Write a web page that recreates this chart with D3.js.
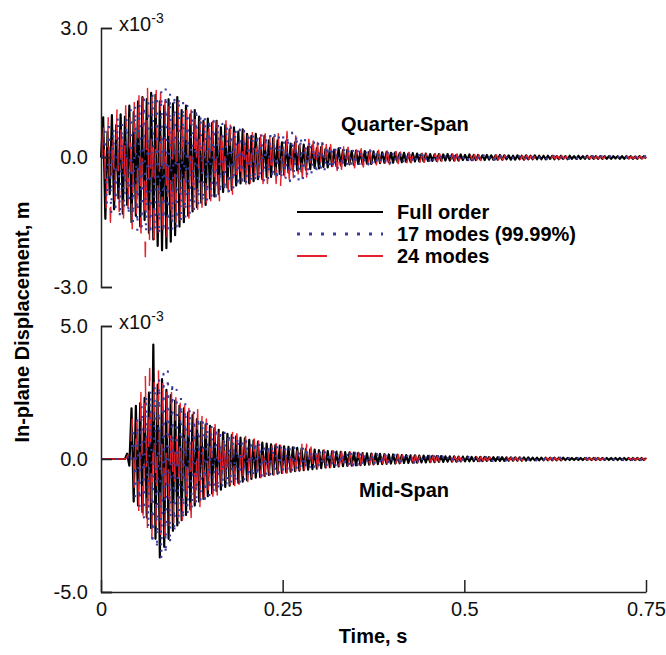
<!DOCTYPE html>
<html>
<head>
<meta charset="utf-8">
<script src="https://cdn.jsdelivr.net/npm/d3@7"></script>
<style>
  body { margin: 0; background: #fff; }
  text { font-family: "Liberation Sans", Arial, sans-serif; }
</style>
</head>
<body>
<div id="chart"></div>
<script>
// sample spacing (s); values below are in units of 1e-5 m (i.e. 0.01 x 10^-3)
const tStep = 0.003;
const timeTicks = [0, 0.25, 0.5, 0.75];
const topTicks = [-3, 0, 3];
const botTicks = [-5, 0, 5];
const seriesNames = ['Full order', '17 modes (99.99%)', '24 modes'];
const seriesStart = [0, 0.002, 0.001]; // time of first sample for each series

// Quarter-span, full order
const quarterFull = [0,
  93, -142, 60, -85, 98, -120, 75, -95, 100, -130,
  95, -110, 120, -150, 105, -135, 130, -160, 140, -145,
  135, -175, 150, -190, 145, -205, 130, -215, 120, -210,
  135, -195, 125, -180, 140, -160, 110, -150, 120, -135,
  100, -125, 110, -115, 95, -105, 85, -110, 90, -95,
  80, -90, 85, -85, 70, -80, 75, -70, 65, -75,
  70, -65, 60, -60, 65, -55, 55, -60, 50, -55,
  55, -50, 45, -50, 50, -45, 40, -45, 45, -40,
  40, -38, 35, -40, 38, -35, 32, -30, 35, -30,
  28, -32, 30, -28, 25, -27, 28, -24, 22, -25,
  24, -22, 20, -23, 22, -20, 18, -20, 21, -18,
  17, -19, 18, -16, 15, -17, 16, -15, 14, -16,
  15, -14, 13, -15, 14, -12, 13, -13, 12, -12,
  13, -11, 11, -12, 12, -10, 10, -11, 11, -10,
  9, -10, 10, -9, 9, -9, 8, -9, 9, -8,
  8, -8, 7, -8, 8, -7, 7, -7, 8, -7,
  7, -7, 6, -7, 7, -6, 6, -6, 7, -6,
  6, -6, 6, -5, 5, -6, 6, -5, 5, -5,
  5, -5, 6, -5, 5, -4, 5, -5, 4, -5,
  5, -4, 4, -5, 5, -4, 4, -4, 5, -4,
  4, -4, 4, -4, 4, -3, 4, -4, 3, -4,
  4, -3, 3, -4, 4, -3, 3, -3, 4, -3,
  3, -3, 4, -3, 3, -3, 3, -3, 3, -3,
  3, -3, 3, -3, 3, -2, 3, -3, 3, -3,
  3, -2, 3, -3, 2, -3, 3, -2, 3, -2];

// Quarter-span, 17 modes
const quarter17 = [0,
  60, -110, 85, -130, 70, -115, 95, -140, 80, -120,
  90, -135, 110, -150, 120, -170, 125, -160, 135, -175,
  140, -180, 150, -170, 145, -180, 155, -175, 160, -165,
  150, -170, 145, -160, 140, -150, 130, -140, 120, -135,
  110, -125, 115, -110, 100, -105, 95, -100, 90, -95,
  85, -90, 80, -85, 78, -80, 75, -78, 70, -72,
  68, -70, 65, -66, 62, -64, 60, -60, 58, -58,
  56, -55, 54, -56, 52, -52, 55, -50, 52, -54,
  50, -52, 55, -50, 52, -55, 58, -52, 55, -53,
  50, -48, 45, -47, 42, -40, 38, -40, 35, -36,
  33, -34, 30, -30, 28, -28, 26, -27, 25, -24,
  23, -22, 21, -22, 20, -19, 19, -18, 18, -18,
  17, -16, 16, -16, 15, -15, 14, -14, 14, -13,
  13, -13, 12, -12, 12, -11, 11, -11, 10, -11,
  10, -10, 10, -9, 9, -9, 9, -9, 8, -8,
  8, -8, 8, -8, 7, -7, 7, -7, 7, -7,
  7, -6, 6, -7, 6, -6, 6, -6, 6, -6,
  6, -5, 5, -6, 5, -5, 5, -5, 5, -5,
  5, -5, 5, -4, 5, -5, 4, -4, 5, -4,
  4, -4, 4, -4, 4, -4, 4, -4, 4, -4,
  4, -3, 4, -4, 3, -4, 4, -3, 3, -4,
  3, -3, 4, -3, 3, -3, 3, -3, 3, -3,
  3, -3, 3, -3, 3, -3, 3, -3, 3, -3,
  3, -2, 3, -3, 3, -2, 3, -3, 2, -3,
  3, -2, 2, -3, 3, -2, 2, -2, 3, -2];

// Quarter-span, 24 modes
const quarter24 = [0,
  80, -120, 95, -150, 70, -100, 110, -125, 90, -140,
  120, -130, 100, -165, 140, -150, 165, -175, 150, -230,
  160, -215, 140, -225, 155, -190, 150, -200, 130, -185,
  140, -170, 120, -165, 130, -150, 115, -145, 125, -140,
  110, -130, 115, -120, 100, -115, 95, -105, 100, -100,
  90, -95, 85, -100, 80, -85, 85, -80, 75, -85,
  80, -75, 70, -80, 75, -70, 65, -75, 70, -65,
  60, -65, 65, -60, 55, -60, 60, -55, 50, -60,
  55, -70, 50, -55, 60, -50, 45, -55, 50, -45,
  45, -48, 40, -45, 42, -38, 38, -40, 35, -38,
  34, -32, 30, -33, 30, -28, 28, -30, 26, -27,
  25, -26, 24, -23, 22, -24, 22, -21, 20, -22,
  19, -20, 18, -19, 18, -17, 17, -17, 16, -16,
  15, -16, 15, -14, 14, -14, 13, -14, 13, -12,
  12, -12, 11, -12, 11, -11, 10, -11, 10, -10,
  10, -9, 9, -10, 9, -9, 9, -8, 8, -9,
  8, -8, 8, -7, 7, -8, 7, -7, 7, -7,
  7, -6, 6, -7, 6, -6, 6, -6, 6, -5,
  6, -5, 5, -6, 5, -5, 5, -5, 5, -5,
  5, -4, 4, -5, 5, -4, 4, -4, 5, -4,
  4, -4, 5, -4, 4, -4, 4, -3, 4, -4,
  4, -3, 3, -4, 4, -3, 3, -3, 4, -3,
  3, -4, 3, -3, 4, -3, 3, -3, 3, -3,
  3, -3, 3, -3, 3, -3, 3, -3, 3, -2,
  3, -3, 2, -3, 3, -2, 3, -3, 2, -2];

// Mid-span, full order
const midFull = [0, 0, 0, 0, 0, 0, 0, 0, 0, 0, 0, 0,
  20, -25, 190, -160, 200, -175, 210, -200, 230,
  -220, 250, -260, 430, -300, 280, -370, 300, -330, 260,
  -300, 240, -270, 220, -250, 200, -230, 190, -210, 175,
  -190, 165, -175, 150, -160, 140, -150, 130, -140, 125,
  -130, 115, -120, 110, -115, 100, -105, 95, -100, 90,
  -95, 85, -90, 80, -85, 78, -80, 72, -75, 70,
  -70, 65, -68, 62, -64, 58, -60, 55, -58, 52,
  -55, 50, -52, 48, -50, 46, -48, 44, -46, 42,
  -44, 40, -42, 38, -40, 36, -38, 35, -36, 33,
  -34, 32, -32, 30, -31, 29, -30, 28, -28, 27,
  -27, 26, -26, 25, -25, 24, -24, 23, -23, 22,
  -22, 21, -21, 20, -20, 20, -19, 19, -19, 18,
  -18, 17, -17, 17, -17, 16, -16, 15, -15, 15,
  -15, 14, -14, 14, -14, 13, -13, 13, -13, 12,
  -12, 12, -12, 11, -11, 11, -11, 10, -10, 10,
  -10, 10, -10, 9, -9, 9, -9, 9, -9, 8,
  -8, 8, -8, 8, -8, 8, -7, 7, -7, 7,
  -7, 7, -7, 7, -7, 6, -6, 6, -6, 6,
  -6, 6, -6, 6, -6, 6, -5, 5, -5, 5,
  -5, 5, -5, 5, -5, 5, -5, 5, -5, 5,
  -5, 5, -4, 4, -4, 4, -4, 4, -4, 4,
  -4, 4, -4, 4, -4, 4, -4, 4, -4, 4,
  -4, 4, -4, 4, -4, 4, -4, 4, -4, 4,
  -4, 4, -4, 4, -4, 4, -4, 4, -4, 4];

// Mid-span, 17 modes
const mid17 = [0, 0, 0, 0, 0, 0, 0, 0, 0, 0, 0, 0,
  10, -15, 120, -140, 150, -180, 200, -220, 240,
  -260, 260, -300, 280, -340, 300, -380, 320, -360, 330,
  -320, 290, -280, 260, -250, 230, -230, 210, -210, 190,
  -190, 175, -175, 160, -160, 150, -150, 140, -140, 130,
  -130, 120, -120, 112, -112, 105, -105, 98, -98, 92,
  -92, 86, -86, 80, -80, 76, -76, 72, -72, 68,
  -68, 64, -64, 60, -60, 57, -57, 54, -54, 51,
  -51, 49, -49, 47, -47, 45, -45, 43, -43, 41,
  -41, 39, -39, 37, -37, 35, -35, 34, -34, 32,
  -32, 31, -31, 29, -29, 28, -28, 27, -27, 26,
  -26, 25, -25, 24, -24, 23, -23, 22, -22, 21,
  -21, 20, -20, 20, -19, 19, -19, 18, -18, 18,
  -17, 17, -17, 16, -16, 16, -15, 15, -15, 15,
  -14, 14, -14, 13, -13, 13, -13, 12, -12, 12,
  -12, 11, -11, 11, -11, 10, -10, 10, -10, 10,
  -9, 9, -9, 9, -9, 9, -8, 8, -8, 8,
  -8, 8, -8, 7, -7, 7, -7, 7, -7, 7,
  -7, 6, -6, 6, -6, 6, -6, 6, -6, 6,
  -6, 5, -5, 5, -5, 5, -5, 5, -5, 5,
  -5, 5, -5, 5, -5, 5, -5, 5, -5, 5,
  -5, 4, -4, 4, -4, 4, -4, 4, -4, 4,
  -4, 4, -4, 4, -4, 4, -4, 4, -4, 4,
  -4, 4, -4, 4, -4, 4, -4, 4, -4, 4,
  -4, 4, -4, 4, -4, 4, -4, 4, -4, 4];

// Mid-span, 24 modes
const mid24 = [0, 0, 0, 0, 0, 0, 0, 0, 0, 0, 0, 0,
  15, -20, 150, -130, 170, -200, 250, -230, 320,
  -280, 340, -300, 330, -250, 345, -320, 300, -290, 280,
  -260, 250, -240, 230, -220, 210, -230, 200, -200, 190,
  -220, 180, -200, 185, -190, 160, -170, 150, -150, 140,
  -140, 130, -135, 120, -125, 110, -115, 105, -110, 100,
  -100, 95, -95, 90, -90, 85, -85, 80, -80, 75,
  -75, 72, -70, 68, -66, 64, -62, 60, -60, 58,
  -56, 56, -54, 52, -52, 50, -48, 55, -45, 60,
  -42, 70, -40, 55, -38, 45, -36, 40, -35, 38,
  -33, 34, -32, 32, -31, 30, -30, 29, -28, 28,
  -27, 26, -26, 25, -25, 24, -24, 23, -23, 22,
  -22, 21, -21, 20, -20, 19, -19, 19, -18, 18,
  -18, 17, -17, 17, -16, 16, -16, 15, -15, 15,
  -15, 14, -14, 14, -13, 13, -13, 13, -12, 12,
  -12, 12, -11, 11, -11, 11, -11, 10, -10, 10,
  -10, 10, -9, 9, -9, 9, -9, 9, -8, 8,
  -8, 8, -8, 8, -8, 7, -7, 7, -7, 7,
  -7, 7, -7, 6, -6, 6, -6, 6, -6, 6,
  -6, 6, -6, 6, -5, 5, -5, 5, -5, 5,
  -5, 5, -5, 5, -5, 5, -5, 5, -5, 5,
  -5, 4, -4, 4, -4, 4, -4, 4, -4, 4,
  -4, 4, -4, 4, -4, 4, -4, 4, -4, 4,
  -4, 4, -4, 4, -4, 4, -4, 4, -4, 4,
  -4, 4, -4, 4, -4, 4, -4, 4, -4, 4];

const svg = d3.select('#chart')
  .append('svg')
  .attr('width', 666)
  .attr('height', 655);

const x = d3.scaleLinear().domain([0, 0.75]).range([101, 646]);
const yTop = d3.scaleLinear().domain([-3, 3]).range([287, 28]);
const yBot = d3.scaleLinear().domain([-5, 5]).range([592, 326]);

// line styles: full order, 17 modes, 24 modes
const styles = [
  { color: '#000000', width: 2.2, dash: null },
  { color: '#3b3b9f', width: 2.1, dash: '2.1,10.5' },
  { color: '#e4222c', width: 1.5, dash: '30,31' }
];
const drawOrder = [0, 2, 1];

function toPoints(vals, t0) {
  return vals.map((v, i) => [t0 + i * tStep, v / 100]);
}

const panels = [
  { y: yTop, ticks: topTicks, data: [quarterFull, quarter17, quarter24] },
  { y: yBot, ticks: botTicks, data: [midFull, mid17, mid24] }
];

panels.forEach(p => {
  const line = d3.line().x(d => x(d[0])).y(d => p.y(d[1]));
  drawOrder.forEach(k => {
    svg.append('path')
      .datum(toPoints(p.data[k], seriesStart[k]))
      .attr('d', line)
      .attr('fill', 'none')
      .attr('stroke', styles[k].color)
      .attr('stroke-width', styles[k].width)
      .attr('stroke-linejoin', 'round')
      .attr('stroke-dasharray', styles[k].dash);
  });

  // left axis, bracket style with inward ticks
  const ax = svg.append('g')
    .attr('transform', `translate(${x(0)},0)`)
    .call(d3.axisLeft(p.y)
      .tickValues(p.ticks)
      .tickSizeInner(-11)
      .tickSizeOuter(-11)
      .tickPadding(13)
      .tickFormat(d => d.toFixed(1)));
  ax.select('.domain').attr('stroke', '#222').attr('stroke-width', 1.5);
  ax.selectAll('.tick line').attr('stroke', '#222').attr('stroke-width', 1.5);
  ax.selectAll('.tick text')
    .style('font-size', '20px')
    .attr('fill', '#111')
    .style('font-family', '"Liberation Sans", Arial, sans-serif');

  // x10^-3 multiplier
  const mult = svg.append('text')
    .attr('x', x(0) + 18)
    .attr('y', p.y.range()[1] + 3)
    .style('font-size', '20px')
    .attr('fill', '#111');
  mult.append('tspan').text('x10');
  mult.append('tspan').attr('dy', -8).style('font-size', '14px').text('-3');
});

// bottom time axis
const xa = svg.append('g')
  .attr('transform', `translate(0,${yBot(-5)})`)
  .call(d3.axisBottom(x)
    .tickValues(timeTicks)
    .tickSizeInner(-12)
    .tickSizeOuter(0)
    .tickPadding(10)
    .tickFormat(d => String(d)));
xa.select('.domain').attr('stroke', '#222').attr('stroke-width', 1.5);
xa.selectAll('.tick line').attr('stroke', '#222').attr('stroke-width', 1.5);
xa.selectAll('.tick text')
  .style('font-size', '20px')
  .attr('fill', '#111')
  .style('font-family', '"Liberation Sans", Arial, sans-serif');

// axis titles
svg.append('text')
  .attr('x', 373).attr('y', 643)
  .attr('text-anchor', 'middle')
  .style('font-size', '20px').style('font-weight', 'bold')
  .text('Time, s');

svg.append('text')
  .attr('transform', 'translate(29,322) rotate(-90)')
  .attr('text-anchor', 'middle')
  .style('font-size', '20px').style('font-weight', 'bold')
  .text('In-plane Displacement, m');

// panel labels
svg.append('text')
  .attr('x', 341).attr('y', 131)
  .style('font-size', '20px').style('font-weight', 'bold')
  .text('Quarter-Span');

svg.append('text')
  .attr('x', 359).attr('y', 497)
  .style('font-size', '20px').style('font-weight', 'bold')
  .text('Mid-Span');

// legend
const legend = svg.append('g').attr('transform', 'translate(297,212)');
const items = legend.selectAll('.legend-item')
  .data(seriesNames)
  .enter()
  .append('g')
  .attr('class', 'legend-item')
  .attr('transform', (d, i) => `translate(0,${i * 22})`);

items.append('line')
  .attr('x1', 0).attr('x2', 86)
  .attr('stroke', (d, i) => styles[i].color)
  .attr('stroke-width', (d, i) => i === 1 ? 3 : 1.8)
  .attr('stroke-dasharray', (d, i) => i === 1 ? '3,9' : styles[i].dash);

items.append('text')
  .attr('x', 100)
  .attr('y', 7)
  .style('font-size', '20px')
  .style('font-weight', 'bold')
  .text(d => d);
</script>
</body>
</html>
